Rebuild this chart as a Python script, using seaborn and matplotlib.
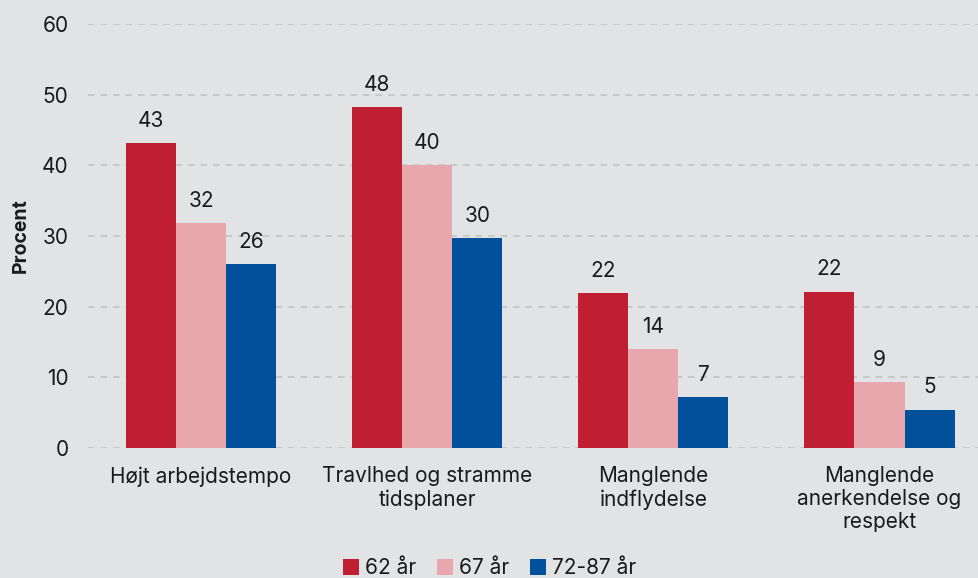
import numpy as np
import pandas as pd
import matplotlib
matplotlib.use("Agg")
import matplotlib.pyplot as plt
import seaborn as sns

# Data
kategorier = ["Højt arbejdstempo", "Travlhed og stramme\ntidsplaner",
              "Manglende\nindflydelse", "Manglende\nanerkendelse og\nrespekt"]
grupper = ["62 år", "67 år", "72-87 år"]
v62 = [43.1, 48.2, 21.9, 22.1]
v67 = [31.8, 40.0, 14.0, 9.3]
v72 = [26.0, 29.7, 7.2, 5.4]
farver = ["#C01F32", "#E8A7AD", "#00509B"]

df = pd.DataFrame({
    "kategori": kategorier * 3,
    "gruppe": [g for g in grupper for _ in kategorier],
    "procent": v62 + v67 + v72,
})

bg = "#E2E3E5"
sns.set_theme(style="white")
plt.rcParams["font.family"] = ["Inter", "DejaVu Sans"]

fig = plt.figure(figsize=(9.79, 5.78), dpi=100, facecolor=bg)
ax = fig.add_axes([0.0899, 0.225, 0.9101, 0.7335], facecolor=bg)

sns.barplot(data=df, x="kategori", y="procent", hue="gruppe", order=kategorier,
            hue_order=grupper, palette=farver, width=0.664, gap=0,
            saturation=1, errorbar=None, ax=ax, zorder=3, linewidth=0)

for c in ax.containers:
    ax.bar_label(c, fmt="%.0f", padding=9, fontsize=15, color="#1a1a1a")

ax.set_ylim(0, 60)
ax.set_xlim(-0.5, 3.44)
ax.set_yticks(range(0, 61, 10))
ax.yaxis.grid(True, linestyle=(0, (4, 3.5)), color="#C2C3C5", linewidth=1.2, zorder=0)
ax.set_axisbelow(True)
for s in ax.spines.values():
    s.set_visible(False)
ax.tick_params(axis="both", length=0, labelsize=15, colors="#1a1a1a")
ax.tick_params(axis="y", pad=14)
ax.tick_params(axis="x", pad=13)
ax.set_xlabel("")
ax.set_ylabel("Procent", fontsize=14, fontweight="bold", color="#1a1a1a", labelpad=9)

ax.get_legend().remove()
handles, labels = ax.get_legend_handles_labels()
fig.legend(handles, labels, loc="center", bbox_to_anchor=(0.5, 0.017), ncol=3,
           frameon=False, fontsize=15, handlelength=0.75, handleheight=0.75,
           handletextpad=0.3, columnspacing=1.0, labelcolor="#1a1a1a")

fig.savefig("out.png", dpi=100, facecolor=bg)
